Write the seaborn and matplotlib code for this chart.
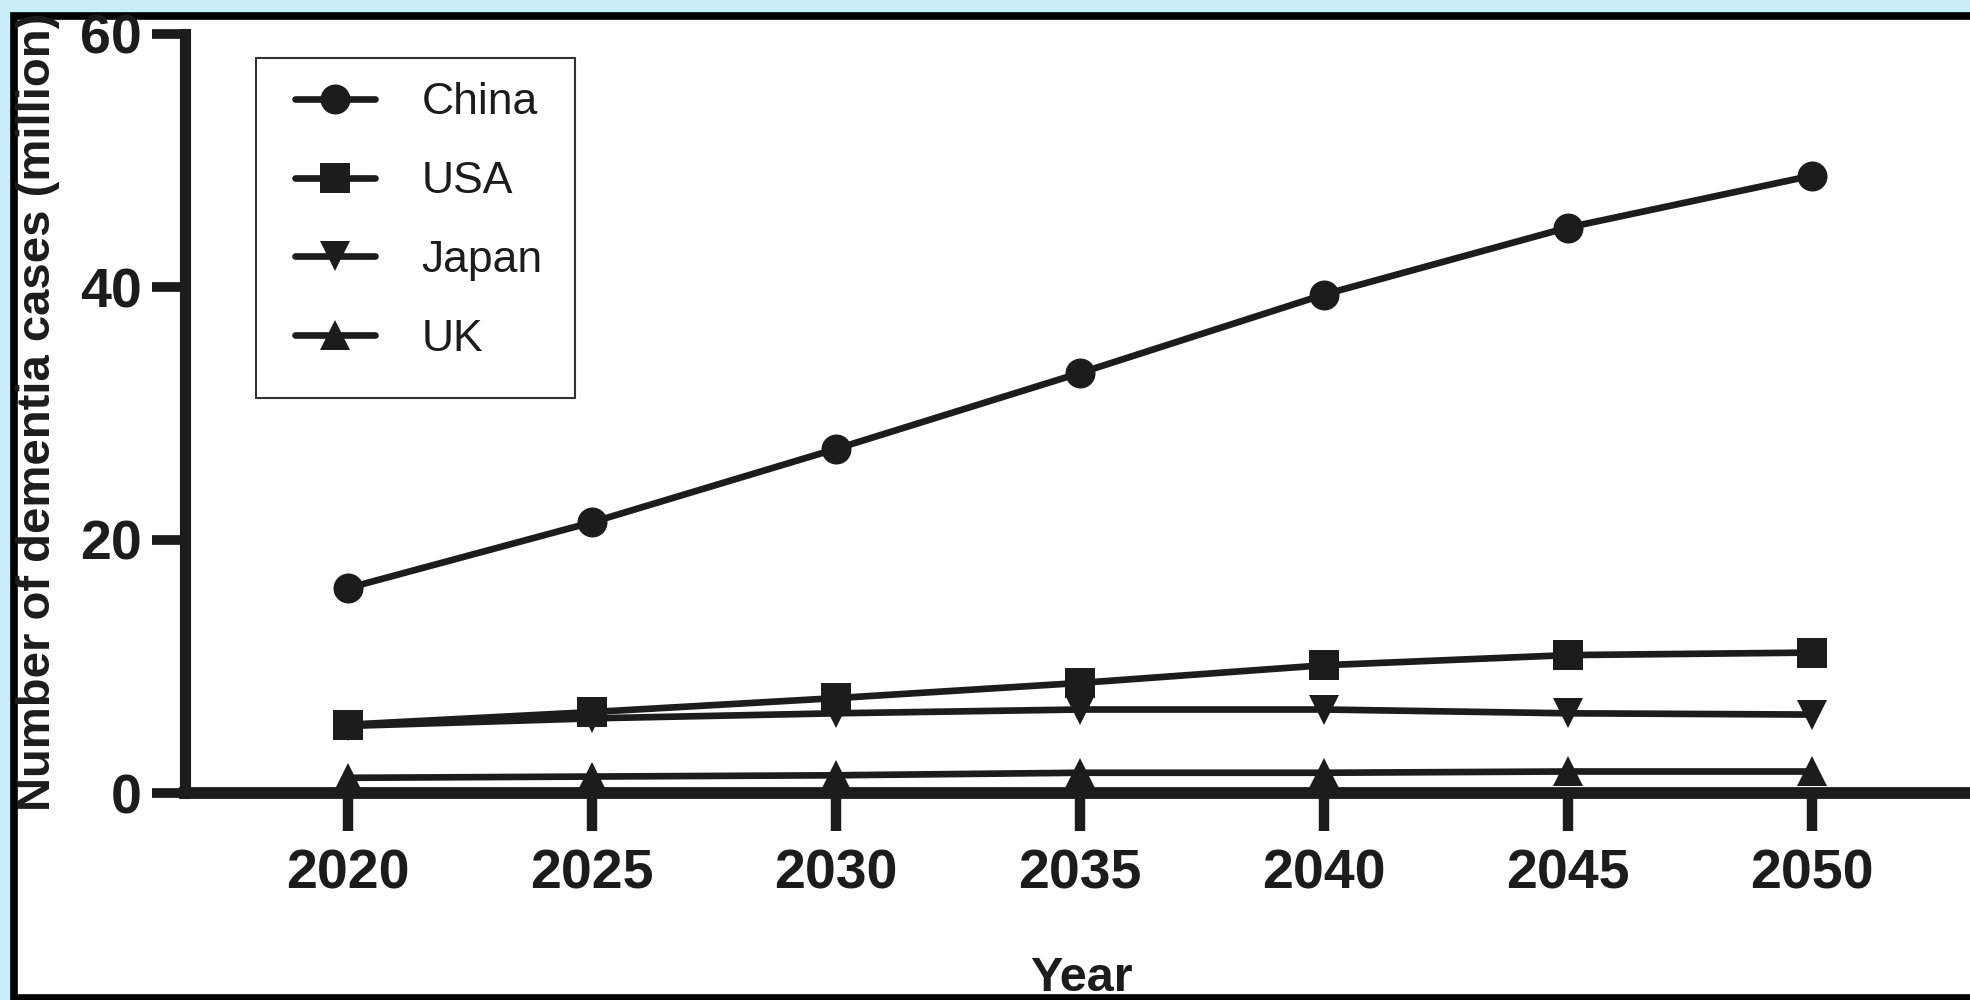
import matplotlib
matplotlib.use("Agg")
import matplotlib.pyplot as plt
import seaborn as sns
from matplotlib.patches import Rectangle
from matplotlib.transforms import Bbox, TransformedBbox

# values (million cases)
years = [2020, 2025, 2030, 2035, 2040, 2045, 2050]
china = [16.2, 21.4, 27.2, 33.2, 39.4, 44.7, 48.8]
usa = [5.4, 6.4, 7.5, 8.7, 10.1, 10.9, 11.1]
japan = [5.3, 5.9, 6.3, 6.6, 6.6, 6.3, 6.2]
uk = [1.2, 1.3, 1.4, 1.6, 1.6, 1.7, 1.7]
countries = ["China", "USA", "Japan", "UK"]
markers = ["o", "s", "v", "^"]
y_ticks = [0, 20, 40, 60]

INK = "#1c1c1c"

sns.set_style("ticks")
plt.rcParams["font.family"] = ["Liberation Sans", "DejaVu Sans"]

fig = plt.figure(figsize=(19.7, 10), dpi=100, facecolor="#c8eef8")

# white panel with black frame (right side runs off the image)
panel = Rectangle((0.0069, 0.002), 1.1, 0.982, transform=fig.transFigure,
                  facecolor="white", edgecolor="black", lw=5.5, zorder=-1)
fig.patches.append(panel)

ax = fig.add_axes([0.0939, 0.207, 0.9061, 0.759])
ax.set_facecolor("none")

for name, vals, mk in zip(countries, [china, usa, japan, uk], markers):
    sns.lineplot(x=years, y=vals, ax=ax, color=INK, marker=mk, markersize=21.6,
                 markeredgewidth=0, linewidth=4.8, label=name, clip_on=False)

ax.set_xlim(2016.66, 2053.24)
ax.set_ylim(0, 60)
ax.set_xticks(years)
ax.set_yticks(y_ticks)

sns.despine(ax=ax)
ax.spines["left"].set_linewidth(8)
ax.spines["bottom"].set_linewidth(8.5)
for sp in ax.spines.values():
    sp.set_color(INK)

ax.tick_params(axis="y", length=24, width=7, pad=7, color=INK, labelcolor=INK)
ax.tick_params(axis="x", length=27, width=7.5, pad=13, color=INK, labelcolor=INK)
for lbl in ax.get_xticklabels() + ax.get_yticklabels():
    lbl.set_fontsize(40)
    lbl.set_fontweight("bold")

ax.set_xlabel("Year", fontsize=35, fontweight="bold", color=INK)
ax.set_ylabel("Number of dementia cases (million)", fontsize=34,
              fontweight="bold", color=INK)
ax.xaxis.set_label_coords(0.502, -0.215)
ax.yaxis.set_label_coords(-0.070, 0.502)
clip = TransformedBbox(Bbox([[0, 0.002], [1, 0.984]]), fig.transFigure)
ax.yaxis.label.set_clip_box(clip)
ax.yaxis.label.set_clip_on(True)

# legend box drawn separately so the padding can be uneven like the original
box = Rectangle((0.0398, 0.5204), 0.1787, 0.448, transform=ax.transAxes,
                facecolor="white", edgecolor="#333333", lw=1.5, zorder=4)
ax.add_patch(box)
leg = ax.legend(loc="upper left", bbox_to_anchor=(0.0482, 0.968), borderaxespad=0,
                fontsize=32, frameon=False, handlelength=1.8, handletextpad=1.05,
                labelspacing=0.85, borderpad=0.54)
leg.set_zorder(5)
for t in leg.get_texts():
    t.set_color(INK)

fig.savefig("out.png", dpi=100, facecolor=fig.get_facecolor())
